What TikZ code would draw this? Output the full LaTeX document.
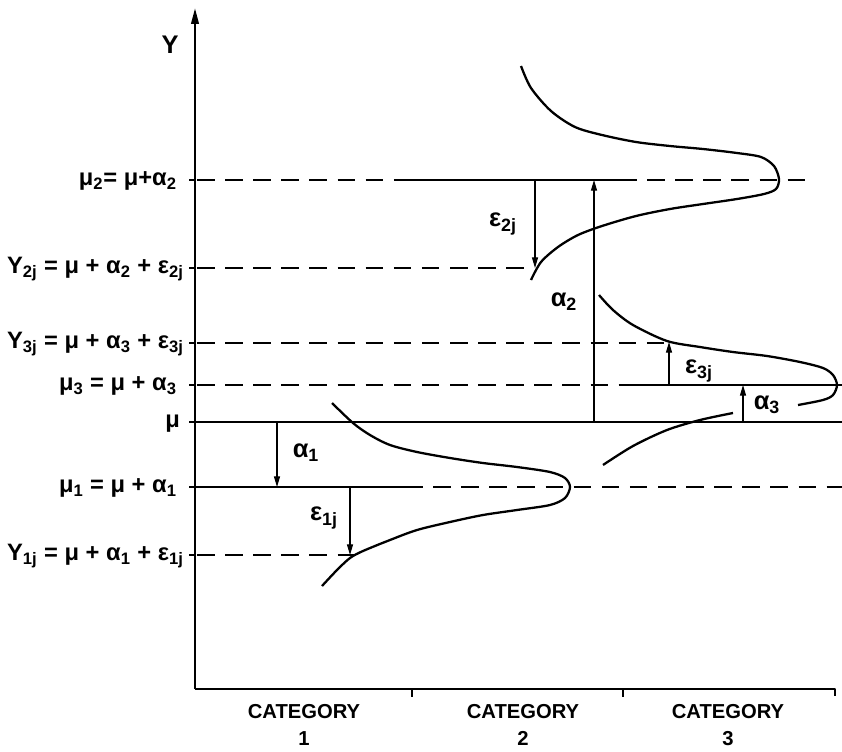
\documentclass[tikz,border=0pt]{standalone}
\usepackage{fontspec}
\setmainfont{Liberation Sans}
\usetikzlibrary{arrows.meta}

\tikzset{
  level/.style={line width=1.1pt},
  guide/.style={line width=1pt,dash pattern=on 10pt off 6pt},
  shiftarrow/.style={line width=0.6pt,-{Triangle[length=6pt,width=3.4pt]}},
  density/.style={line width=1.3pt,smooth},
  lab/.style={font=\bfseries\fontsize{13.5}{16}\selectfont,anchor=east,inner sep=1pt},
  greek/.style={font=\bfseries\fontsize{14.5}{16}\selectfont,inner sep=1pt},
  catlab/.style={font=\bfseries\fontsize{11.5}{15.5}\selectfont,align=center,inner sep=0pt},
}

\begin{document}
\begin{tikzpicture}[x=0.02cm,y=-0.02cm,line join=round]
  \useasboundingbox (0,0) rectangle (842,751);

  % Axes with category ticks.
  \coordinate (O) at (195,689);
  \coordinate (top) at (195,8);
  \coordinate (xend) at (835,689);
  \draw[line width=1.4pt,-{Triangle[length=9pt,width=4.2pt]}] (O) -- (top);
  \draw[line width=1.2pt] (O) -- (xend) -- ++(0,7);
  \draw[line width=0.8pt] (412,689) -- ++(0,8) (623,689) -- ++(0,8);
  \foreach \y in {180,268,343,385,422,487,555}
    \draw[line width=0.8pt] (189,\y) -- (195,\y);
  \node[greek] (ylab) at (170,45) {Y};
  \foreach \x/\n in {304/1,523/2,728/3}
    \node[catlab] (cat\n) at (\x,725) {CATEGORY\\\n};

  % Level lines: solid for mu, dashed guides elsewhere.
  \draw[level] (195,422) -- (842,422);
  \draw[guide] (197,180) -- (405,180);
  \draw[level] (405,180) -- (619,180);
  \draw[guide] (619,180) -- (805,180);
  \draw[guide] (197,268) -- (525,268);
  \draw[guide] (197,343) -- (667,343);
  \draw[guide] (197,385) -- (622,385);
  \draw[level] (622,385) -- (842,385);
  \draw[level] (195,487) -- (405,487);
  \draw[guide] (405,487) -- (842,487);
  \draw[guide] (197,555) -- (363,555);

  % Level labels on the Y axis.
  \node[lab] (mu2) at (179,181) {μ\textsubscript{2}= μ+α\textsubscript{2}};
  \node[lab] (y2) at (186,269) {Y\textsubscript{2j} = μ + α\textsubscript{2} + ε\textsubscript{2j}};
  \node[lab] (y3) at (186,344) {Y\textsubscript{3j} = μ + α\textsubscript{3} + ε\textsubscript{3j}};
  \node[lab] (mu3) at (179,386) {μ\textsubscript{3} = μ + α\textsubscript{3}};
  \node[lab] (mu) at (182,424) {μ};
  \node[lab] (mu1) at (179,488) {μ\textsubscript{1} = μ + α\textsubscript{1}};
  \node[lab] (y1) at (186,556) {Y\textsubscript{1j} = μ + α\textsubscript{1} + ε\textsubscript{1j}};

  % Category 1 density.
  \draw[density] plot coordinates {(332,403) (353,423) (370,435) (390,445)
    (417,452) (450,458) (483,463) (517,467) (550,472) (565,478) (570,487)
    (565,498) (550,505) (517,510) (483,515) (450,522) (417,530) (390,540)
    (363,551) (350,558) (337,570) (322,586)};

  % Category 2 density.
  \draw[density] plot coordinates {(521,66) (531,88) (551,111) (575,127)
    (602,135) (636,142) (670,146) (703,149) (737,153) (761,157) (774,166)
    (779,179) (776,189) (764,194) (737,199) (703,204) (670,209) (636,216)
    (602,226) (578,235) (558,247) (541,262) (531,280)};

  % Category 3 density, broken under the alpha_3 label.
  \draw[density] plot coordinates {(599,295) (613,310) (633,325) (667,341)
    (700,347) (733,352) (767,356) (800,362) (823,368) (833,375) (837,385)
    (833,395) (823,400) (798,405)};
  \draw[density] plot coordinates {(733,413) (700,420) (667,430) (633,446)
    (603,465)};

  % Effects and errors.
  \draw[shiftarrow] (277,422) -- (277,487);
  \draw[shiftarrow] (350,487) -- (350,555);
  \draw[shiftarrow] (535,180) -- (535,268);
  \draw[shiftarrow] (594,422) -- (594,180);
  \draw[shiftarrow] (669,385) -- (669,342);
  \draw[shiftarrow] (743,422) -- (743,385);
  \node[greek] (a1) at (306,453) {α\textsubscript{1}};
  \node[greek] (e1) at (324,518) {ε\textsubscript{1j}};
  \node[greek] (e2) at (503,224) {ε\textsubscript{2j}};
  \node[greek] (a2) at (564,302) {α\textsubscript{2}};
  \node[greek] (e3) at (699,371) {ε\textsubscript{3j}};
  \node[greek] (a3) at (767,405) {α\textsubscript{3}};
\end{tikzpicture}
\end{document}
